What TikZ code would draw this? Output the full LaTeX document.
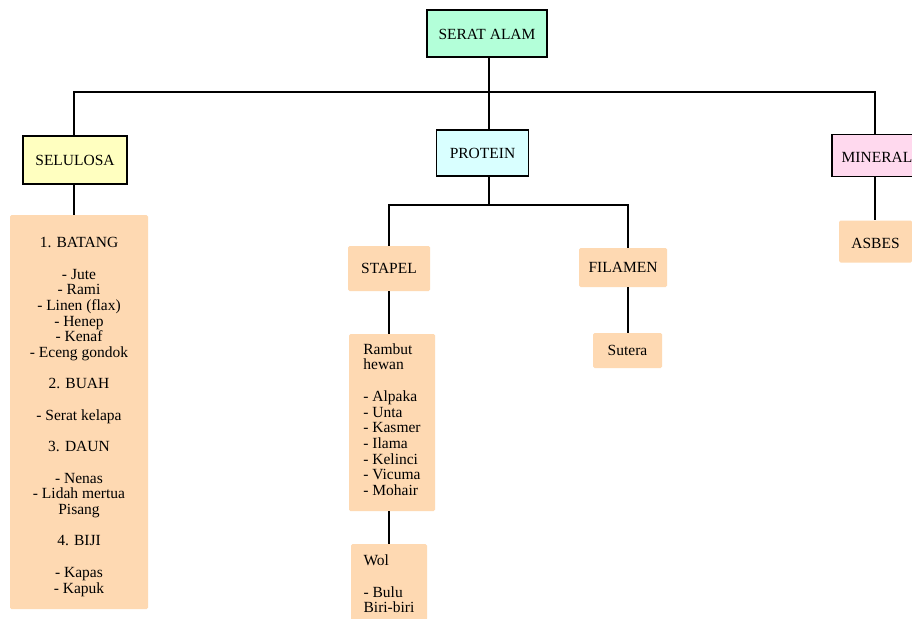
\documentclass[tikz,border=0pt]{standalone}
\usepackage{fontspec}
\setmainfont{Liberation Serif}
\begin{document}
\definecolor{mint}{RGB}{179,255,217}
\definecolor{lemon}{RGB}{255,255,192}
\definecolor{icecyan}{RGB}{217,255,255}
\definecolor{rose}{RGB}{255,217,238}
\definecolor{peach}{RGB}{254,217,178}
\begin{tikzpicture}[x=1pt,y=-1pt,
  every node/.style={font=\fontsize{15.5}{15.7}\selectfont, inner sep=0pt},
  headbox/.style={draw=black, line width=1.3pt},
  itembox/.style={fill=peach, rounded corners=1.5pt},
  link/.style={draw=black, line width=1.1pt}]
\clip (0,0) rectangle (912,618);
\fill[white] (0,0) rectangle (912,618);

% category heads
\node[headbox, fill=mint, minimum width=120pt, minimum height=47pt] (serat) at (487,33.5) {\rule{0pt}{12pt}SERAT ALAM};
\node[headbox, fill=lemon, minimum width=104pt, minimum height=48pt] (selulosa) at (75,160) {SELULOSA};
\node[headbox, fill=icecyan, minimum width=92pt, minimum height=46pt] (protein) at (482.5,153) {PROTEIN};
\node[headbox, fill=rose, minimum width=90pt, minimum height=42pt] (mineral) at (877,155.7) {\rule{0pt}{14pt}MINERAL};

% plant fibres
\node[itembox, minimum width=138pt, minimum height=394pt, align=center] (batang) at (79,412)
  {\rule{0pt}{20pt}1. BATANG\\[15.7pt]
   - Jute\\ - Rami\\ - Linen (flax)\\ - Henep\\ - Kenaf\\ - Eceng gondok\\[15.7pt]
   2. BUAH\\[15.7pt]
   - Serat kelapa\\[15.7pt]
   3. DAUN\\[15.7pt]
   - Nenas\\ - Lidah mertua\\ Pisang\\[15.7pt]
   4. BIJI\\[15.7pt]
   - Kapas\\ - Kapuk};

% animal fibres
\node[itembox, minimum width=82pt, minimum height=45pt] (stapel) at (389,268.5) {STAPEL};
\node[itembox, minimum width=86pt, minimum height=177pt, align=left] (rambut) at (392,422.5)
  {Rambut\\ hewan\\[15.7pt]
   - Alpaka\\ - Unta\\ - Kasmer\\ - Ilama\\ - Kelinci\\ - Vicuma\\ - Mohair\rule[-6pt]{0pt}{6pt}};
\node[itembox, minimum width=76pt, minimum height=76pt, align=left] (wol) at (389,582)
  {\rule{0pt}{15pt}Wol\\[15.7pt] - Bulu\\ Biri-biri};
\node[itembox, minimum width=88pt, minimum height=39pt] (filamen) at (623,267.5) {FILAMEN};
\node[itembox, minimum width=69pt, minimum height=35pt] (sutera) at (627.5,350.5) {Sutera};

% mineral fibres
\node[itembox, minimum width=73pt, minimum height=42pt] (asbes) at (875.5,241.5) {\rule{0pt}{15pt}ASBES};

% connector guides
\coordinate (trunk) at (489,92);
\coordinate (subbus) at (489,205);
\coordinate (xS) at (74,0);
\coordinate (xL) at (389,0);
\coordinate (xR) at (628,0);
\coordinate (xM) at (875,0);

% connectors
\draw[link] (serat.south -| trunk) -- (protein.north -| trunk);
\draw[link] (selulosa.north -| xS) |- (trunk) -| (mineral.north -| xM);
\draw[link] (selulosa.south -| xS) -- (batang.north -| xS);
\draw[link] (protein.south -| trunk) -- (subbus);
\draw[link] (stapel.north -| xL) |- (subbus) -| (filamen.north -| xR);
\draw[link] (stapel.south -| xL) -- (rambut.north -| xL);
\draw[link] (rambut.south -| xL) -- (wol.north -| xL);
\draw[link] (filamen.south -| xR) -- (sutera.north -| xR);
\draw[link] (mineral.south -| xM) -- (asbes.north -| xM);
\end{tikzpicture}
\end{document}
